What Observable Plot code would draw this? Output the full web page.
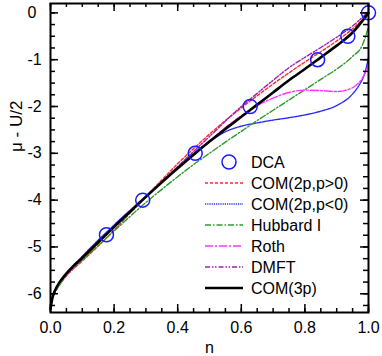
<!DOCTYPE html>
<html><head><meta charset="utf-8">
<script src="https://cdn.jsdelivr.net/npm/d3@7"></script>
<script src="https://cdn.jsdelivr.net/npm/@observablehq/plot@0.6"></script>
<style>
body{margin:0;background:#fff}
svg{font-family:"Liberation Sans",Arial,sans-serif}
</style>
</head><body><div id="chart"></div>
<script>
// ---- data ----
const dcaN = [0.176, 0.29, 0.455, 0.628, 0.84, 0.935, 1.0];
const dcaY = [-4.74, -4.0, -3.0, -2.0, -1.0, -0.5, 0.0];

const com3pN = [0, 0.005, 0.01, 0.02, 0.04, 0.07, 0.1, 0.15, 0.2, 0.25, 0.3, 0.35, 0.4, 0.45, 0.5, 0.55, 0.6, 0.65, 0.7, 0.75, 0.8, 0.85, 0.9, 0.95, 1.0];
const com3pY = [-6.32, -6.12, -6.0, -5.85, -5.65, -5.42, -5.23, -4.9, -4.57, -4.25, -3.93, -3.62, -3.32, -3.03, -2.75, -2.48, -2.22, -1.96, -1.7, -1.44, -1.2, -0.95, -0.7, -0.42, 0.0];

const com2pPosN = [0, 0.005, 0.01, 0.02, 0.05, 0.1, 0.15, 0.2, 0.25, 0.3, 0.35, 0.4, 0.45, 0.5, 0.55, 0.6, 0.65, 0.7, 0.75, 0.8, 0.85, 0.9, 0.95, 1.0];
const com2pPosY = [-6.32, -6.12, -6.02, -5.9, -5.62, -5.3, -4.98, -4.64, -4.28, -3.92, -3.57, -3.22, -2.9, -2.59, -2.3, -2.03, -1.77, -1.52, -1.28, -1.05, -0.83, -0.6, -0.34, -0.02];

const com2pNegN = [0, 0.005, 0.01, 0.02, 0.05, 0.1, 0.2, 0.3, 0.4, 0.45, 0.5, 0.55, 0.6, 0.65, 0.7, 0.75, 0.8, 0.85, 0.9, 0.95, 0.97, 0.99, 1.0];
const com2pNegY = [-6.32, -6.12, -6.0, -5.85, -5.58, -5.2, -4.53, -3.91, -3.3, -3.0, -2.75, -2.54, -2.42, -2.35, -2.29, -2.24, -2.18, -2.1, -1.98, -1.73, -1.55, -1.25, -0.95];

const hubbardN = [0, 0.005, 0.01, 0.02, 0.05, 0.1, 0.15, 0.2, 0.25, 0.3, 0.35, 0.4, 0.45, 0.5, 0.55, 0.6, 0.65, 0.7, 0.75, 0.8, 0.85, 0.9, 0.95, 0.98, 1.0];
const hubbardY = [-6.32, -6.12, -6.02, -5.9, -5.6, -5.28, -4.97, -4.66, -4.35, -4.05, -3.77, -3.5, -3.24, -3.0, -2.76, -2.53, -2.3, -2.08, -1.86, -1.64, -1.42, -1.2, -0.93, -0.7, -0.3];

const rothN = [0, 0.005, 0.01, 0.02, 0.05, 0.1, 0.2, 0.3, 0.4, 0.5, 0.55, 0.6, 0.65, 0.7, 0.75, 0.8, 0.85, 0.9, 0.93, 0.96, 0.98, 1.0];
const rothY = [-6.32, -6.12, -6.0, -5.85, -5.6, -5.23, -4.57, -3.93, -3.32, -2.74, -2.45, -2.2, -1.98, -1.82, -1.7, -1.65, -1.66, -1.68, -1.65, -1.55, -1.4, -1.1];

const dmftN = [0, 0.005, 0.01, 0.02, 0.05, 0.1, 0.2, 0.3, 0.4, 0.5, 0.6, 0.65, 0.7, 0.75, 0.8, 0.85, 0.9, 0.95, 1.0];
const dmftY = [-6.32, -6.12, -6.0, -5.85, -5.6, -5.25, -4.58, -3.93, -3.28, -2.64, -2.0, -1.72, -1.44, -1.17, -0.95, -0.74, -0.52, -0.28, 0.03];

const xMajor = [0, 0.2, 0.4, 0.6, 0.8, 1.0];
const xMinor = d3.range(0, 1.0001, 0.05);
const yMajor = [0, -1, -2, -3, -4, -5, -6];
const yMinor = d3.range(-6.25, 0.01, 0.25);
const xTitle = "n";
const yTitle = "μ - U/2";

// ---- series table ----
const series = [
  {name: "COM(2p,p>0)", n: com2pPosN, y: com2pPosY, stroke: "#ff2a2a", width: 1.4, dash: "3,2"},
  {name: "COM(2p,p<0)", n: com2pNegN, y: com2pNegY, stroke: "#2b2bff", width: 1.4, dash: "1.2,1"},
  {name: "Hubbard I", n: hubbardN, y: hubbardY, stroke: "#2e9a2e", width: 1.4, dash: "6,2,1.5,2"},
  {name: "Roth", n: rothN, y: rothY, stroke: "#ff33ff", width: 1.4, dash: "8,2,2,2"},
  {name: "DMFT", n: dmftN, y: dmftY, stroke: "#a020b0", width: 1.4, dash: "5,2,1.5,1.5,1.5,2"},
  {name: "COM(3p)", n: com3pN, y: com3pY, stroke: "#000000", width: 2.6, dash: null}
];
const rows = s => s.n.map((n, i) => ({n, y: s.y[i]}));
const dca = dcaN.map((n, i) => ({n, y: dcaY[i]}));

const W = 382, H = 356, mL = 50, mR = 14, mT = 3, mB = 44;
const iW = W - mL - mR, iH = H - mT - mB;

const plot = Plot.plot({
  width: W, height: H,
  marginLeft: mL, marginRight: mR, marginTop: mT, marginBottom: mB,
  style: {fontFamily: '"Liberation Sans", Arial, sans-serif', fontSize: "16px", color: "black", background: "white", overflow: "visible"},
  x: {domain: [0, 1]},
  y: {domain: [-6.4, 0.2], axis: null},
  marks: [
    ...series.map(s => Plot.line(rows(s), {x: "n", y: "y", stroke: s.stroke, strokeWidth: s.width, strokeDasharray: s.dash, curve: "monotone-x"})),
    Plot.dot(dca, {x: "n", y: "y", r: 7, stroke: "#1a1aff", strokeWidth: 1.5, fill: "none"}),
    // inward ticks
    Plot.tickX(xMinor, {x: d => d, insetTop: iH - 4, stroke: "black", strokeWidth: 1.5}),
    Plot.tickX(xMajor, {x: d => d, insetTop: iH - 8, stroke: "black", strokeWidth: 1.5}),
    Plot.tickX(xMinor, {x: d => d, insetBottom: iH - 4, stroke: "black", strokeWidth: 1.5}),
    Plot.tickX(xMajor, {x: d => d, insetBottom: iH - 8, stroke: "black", strokeWidth: 1.5}),
    Plot.tickY(yMinor, {y: d => d, insetRight: iW - 5, stroke: "black", strokeWidth: 1.5}),
    Plot.tickY(yMajor, {y: d => d, insetRight: iW - 8, stroke: "black", strokeWidth: 1.5}),
    Plot.tickY(yMinor, {y: d => d, insetLeft: iW - 5, stroke: "black", strokeWidth: 1.5}),
    Plot.tickY(yMajor, {y: d => d, insetLeft: iW - 8, stroke: "black", strokeWidth: 1.5}),
    Plot.frame({stroke: "black", strokeWidth: 2}),
    Plot.axisX({ticks: xMajor, tickSize: 0, tickPadding: 9, tickFormat: d3.format(".1f"), label: xTitle, labelAnchor: "center", labelArrow: "none", labelOffset: 40, fontSize: 16}),
    Plot.text(yMajor, {y: d => d, frameAnchor: "left", text: d => String(d), textAnchor: "start", dx: -23, fontSize: 16}),
    Plot.text([yTitle], {frameAnchor: "left", text: d => d, rotate: -90, dx: -34, dy: -6, fontSize: 17})
  ]
});
document.getElementById("chart").appendChild(plot);

// ---- legend (inside the plot) ----
const svg = d3.select(plot);
const lg = svg.append("g").attr("font-size", 16).attr("fill", "black").attr("text-anchor", "start");
const lx0 = 205, lx1 = 243, tx = 251, ly0 = 162, dy = 21;
lg.append("circle").attr("cx", (lx0 + lx1) / 2 + 5).attr("cy", ly0).attr("r", 7)
  .attr("fill", "none").attr("stroke", "#1a1aff").attr("stroke-width", 1.5);
lg.append("text").attr("x", tx).attr("y", ly0).attr("dy", "0.35em").text("DCA");
series.forEach((s, i) => {
  const y = ly0 + dy * (i + 1);
  lg.append("line").attr("x1", lx0).attr("x2", lx1).attr("y1", y).attr("y2", y)
    .attr("stroke", s.stroke).attr("stroke-width", s.width).attr("stroke-dasharray", s.dash);
  lg.append("text").attr("x", tx).attr("y", y).attr("dy", "0.35em").text(s.name);
});
</script>
</body></html>
